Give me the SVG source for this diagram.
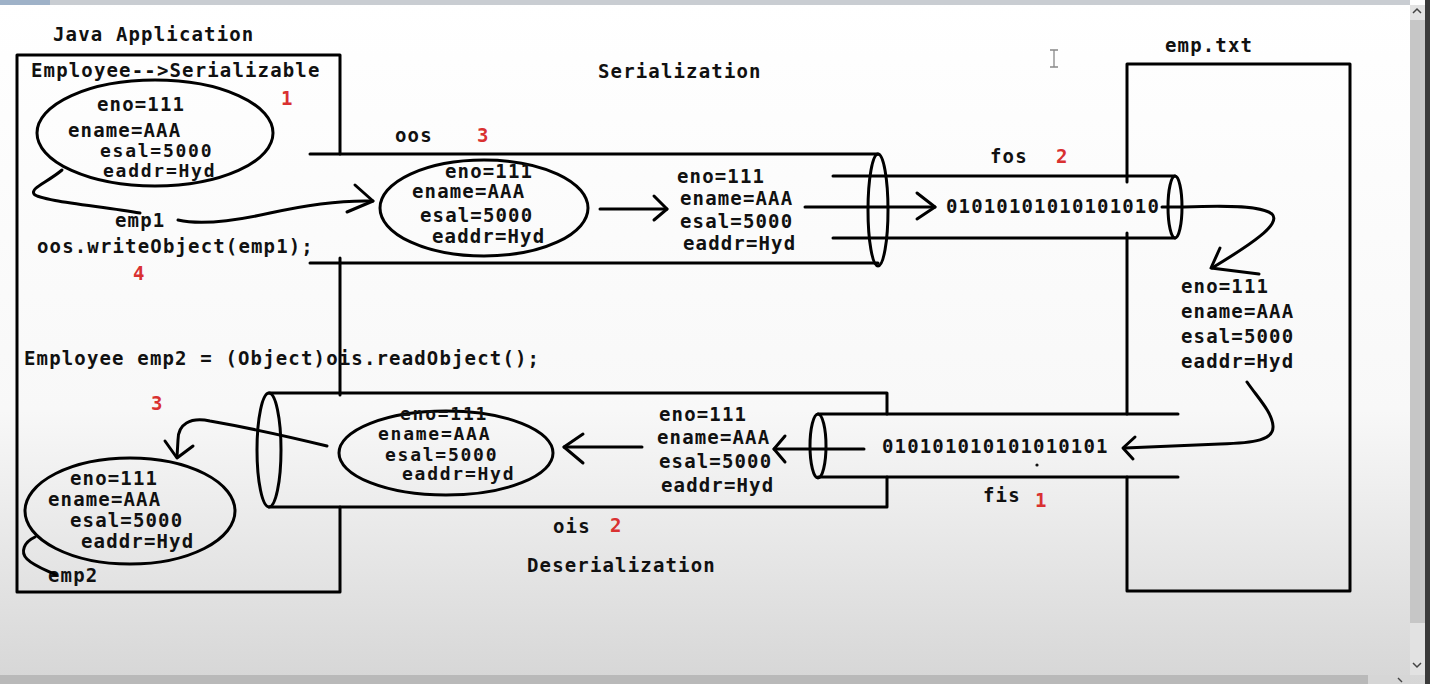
<svg xmlns="http://www.w3.org/2000/svg" width="1430" height="684" viewBox="0 0 1430 684">
<defs>
<linearGradient id="bg" x1="0" y1="0" x2="0" y2="1">
<stop offset="0" stop-color="#ffffff"/>
<stop offset="0.6" stop-color="#f8f8f8"/>
<stop offset="1" stop-color="#d6d6d6"/>
</linearGradient>
<style>
.t{font-family:"DejaVu Sans Mono","Liberation Mono",monospace;font-size:19px;font-weight:bold;letter-spacing:1.15px;fill:#111}
.s{font-size:18px;letter-spacing:1.75px}
.r{fill:#d93131}
.ln{stroke:#000;stroke-width:3;fill:none;stroke-linecap:round;stroke-linejoin:round}
.el{stroke:#000;stroke-width:3;fill:none}
.hd{stroke:#000;stroke-width:3;fill:none;stroke-linecap:round;stroke-linejoin:round}
</style>
</defs>

<!-- screen background -->
<rect x="0" y="0" width="1430" height="684" fill="url(#bg)"/>
<rect x="0" y="0" width="1410" height="5" fill="#c9cdd2"/>
<rect x="0" y="0" width="50" height="5" fill="#9fb2c8"/>
<rect x="1410" y="5" width="15" height="670" fill="#e2e2e2"/>
<rect x="1410" y="20" width="15" height="603" fill="#c6c6c6"/>
<rect x="1425" y="0" width="5" height="684" fill="#3a3a3a"/>
<rect x="0" y="675" width="1410" height="9" fill="#d6d6d6"/>
<rect x="0" y="675" width="1368" height="9" fill="#b9b9b9"/>
<path d="M1413,13 L1417,9 L1421,13" stroke="#444" stroke-width="1.5" fill="none"/>
<path d="M1413,663 L1417,667 L1421,663" stroke="#444" stroke-width="1.5" fill="none"/>
<path d="M1398,678 L1402,682" stroke="#444" stroke-width="1.5" fill="none"/>
<path d="M1050,50 h8 M1054,50 v17 M1050,67 h8" stroke="#888" stroke-width="1.3" fill="none"/>

<!-- titles -->
<g id="titles">
<text class="t" x="53" y="41">Java Application</text>
<text class="t" x="598" y="78">Serialization</text>
<text class="t" x="1165" y="52">emp.txt</text>
<text class="t" x="527" y="572">Deserialization</text>
</g>

<!-- Java Application box -->
<g id="java-app">
<path class="ln" d="M340,154 L340,55 L17,55 L17,592 L340,592 L340,507 M340,258 L340,395"/>
<text class="t" x="31" y="77">Employee-->Serializable</text>
<text class="t" x="37" y="253">oos.writeObject(emp1);</text>
<text class="t" x="24" y="365">Employee emp2 = (Object)ois.readObject();</text>
<text class="t" x="115" y="227">emp1</text>
<text class="t" x="48" y="582">emp2</text>
<text class="t r" x="281" y="105">1</text>
<text class="t r" x="133" y="280">4</text>
<text class="t r" x="151" y="410">3</text>
</g>

<!-- emp.txt file box -->
<g id="emp-txt">
<path class="ln" d="M1127,182 L1127,64 L1350,64 L1350,591 L1127,591 L1127,477 M1127,233 L1127,414"/>
<text class="t" x="1181" y="293">eno=111</text>
<text class="t" x="1181" y="318">ename=AAA</text>
<text class="t" x="1181" y="343">esal=5000</text>
<text class="t" x="1181" y="368">eaddr=Hyd</text>
</g>

<!-- emp1 object -->
<g id="emp1-object">
<ellipse class="el" cx="155" cy="133" rx="118" ry="53"/>
<text class="t" x="97" y="111">eno=111</text>
<text class="t" x="68" y="137">ename=AAA</text>
<text class="t s" x="100" y="157">esal=5000</text>
<text class="t s" x="103" y="177">eaddr=Hyd</text>
</g>

<!-- oos cylinder -->
<g id="oos-stream">
<path class="ln" d="M310,154 L878,154 M310,263 L878,263"/>
<ellipse class="el" cx="878" cy="210" rx="10" ry="56"/>
<text class="t" x="395" y="142">oos</text>
<text class="t r" x="477" y="142">3</text>
</g>

<g id="oos-object">
<ellipse class="el" cx="484" cy="208" rx="104" ry="48"/>
<text class="t" x="445" y="178">eno=111</text>
<text class="t" x="412" y="198">ename=AAA</text>
<text class="t" x="420" y="222">esal=5000</text>
<text class="t" x="432" y="243">eaddr=Hyd</text>
</g>

<g id="oos-fields">
<text class="t" x="677" y="183">eno=111</text>
<text class="t" x="680" y="205">ename=AAA</text>
<text class="t" x="680" y="228">esal=5000</text>
<text class="t" x="683" y="250">eaddr=Hyd</text>
</g>

<!-- fos cylinder -->
<g id="fos-stream">
<path class="ln" d="M833,176 L1175,176 M833,238 L1175,238"/>
<ellipse class="el" cx="1175" cy="207" rx="7" ry="31"/>
<text class="t" x="946" y="213">01010101010101010</text>
<text class="t" x="990" y="163">fos</text>
<text class="t r" x="1056" y="163">2</text>
</g>

<!-- fis cylinder -->
<g id="fis-stream">
<path class="ln" d="M818,414 L1178,414 M818,477 L1178,477"/>
<ellipse class="el" cx="818" cy="446" rx="8" ry="32"/>
<text class="t" x="882" y="453">010101010101010101</text>
<circle cx="1037" cy="465" r="1.6" fill="#111"/>
<text class="t" x="983" y="502">fis</text>
<text class="t r" x="1035" y="507">1</text>
</g>

<!-- ois cylinder -->
<g id="ois-stream">
<path class="ln" d="M269,393 L887,393 L887,414 M887,477 L887,507 L269,507"/>
<ellipse class="el" cx="269" cy="450" rx="12" ry="57"/>
<text class="t" x="553" y="533">ois</text>
<text class="t r" x="610" y="532">2</text>
</g>

<g id="fis-fields">
<text class="t" x="659" y="421">eno=111</text>
<text class="t" x="657" y="444">ename=AAA</text>
<text class="t" x="659" y="468">esal=5000</text>
<text class="t" x="661" y="492">eaddr=Hyd</text>
</g>

<g id="ois-object">
<ellipse class="el" cx="446" cy="453" rx="107" ry="42"/>
<text class="t s" x="400" y="420">eno=111</text>
<text class="t s" x="378" y="440">ename=AAA</text>
<text class="t s" x="385" y="461">esal=5000</text>
<text class="t s" x="402" y="480">eaddr=Hyd</text>
</g>

<g id="emp2-object">
<ellipse class="el" cx="130" cy="511" rx="105" ry="53"/>
<text class="t" x="70" y="485">eno=111</text>
<text class="t" x="48" y="506">ename=AAA</text>
<text class="t" x="70" y="527">esal=5000</text>
<text class="t" x="81" y="548">eaddr=Hyd</text>
</g>

<!-- connectors -->
<g id="connectors">
<path class="ln" d="M62,170 C48,182 30,188 34,194 C40,201 100,206 140,213"/>
<path class="ln" d="M178,220 C200,225 230,222 270,213 C310,204 340,200 373,201"/>
<path class="hd" d="M355,185 L373,201 L347,212"/>

<path class="ln" d="M600,209 L667,209"/>
<path class="hd" d="M654,196 L667,209 L654,220"/>

<path class="ln" d="M805,207 L935,207"/>
<path class="hd" d="M917,193 L935,207 L917,219"/>

<path class="ln" d="M1162,207 L1184,207 C1230,205 1262,206 1272,214 C1282,224 1250,245 1212,268"/>
<path class="hd" d="M1220,248 L1211,268 L1259,274"/>

<path class="ln" d="M1247,382 C1258,398 1272,412 1273,426 C1274,440 1255,443 1220,444 L1125,448"/>
<path class="hd" d="M1135,437 L1123,448 L1133,459"/>

<path class="ln" d="M864,449 L774,449"/>
<path class="hd" d="M785,436 L774,449 L785,462"/>

<path class="ln" d="M642,447 L564,447"/>
<path class="hd" d="M583,434 L564,447 L583,463"/>

<path class="ln" d="M327,446 C290,437 250,428 210,421 C190,417 178,424 178,440 L177,457"/>
<path class="hd" d="M165,441 L177,458 L193,446"/>

<path class="ln" d="M35,537 C24,542 20,552 27,559 C34,566 46,570 56,575"/>
</g>
</svg>
